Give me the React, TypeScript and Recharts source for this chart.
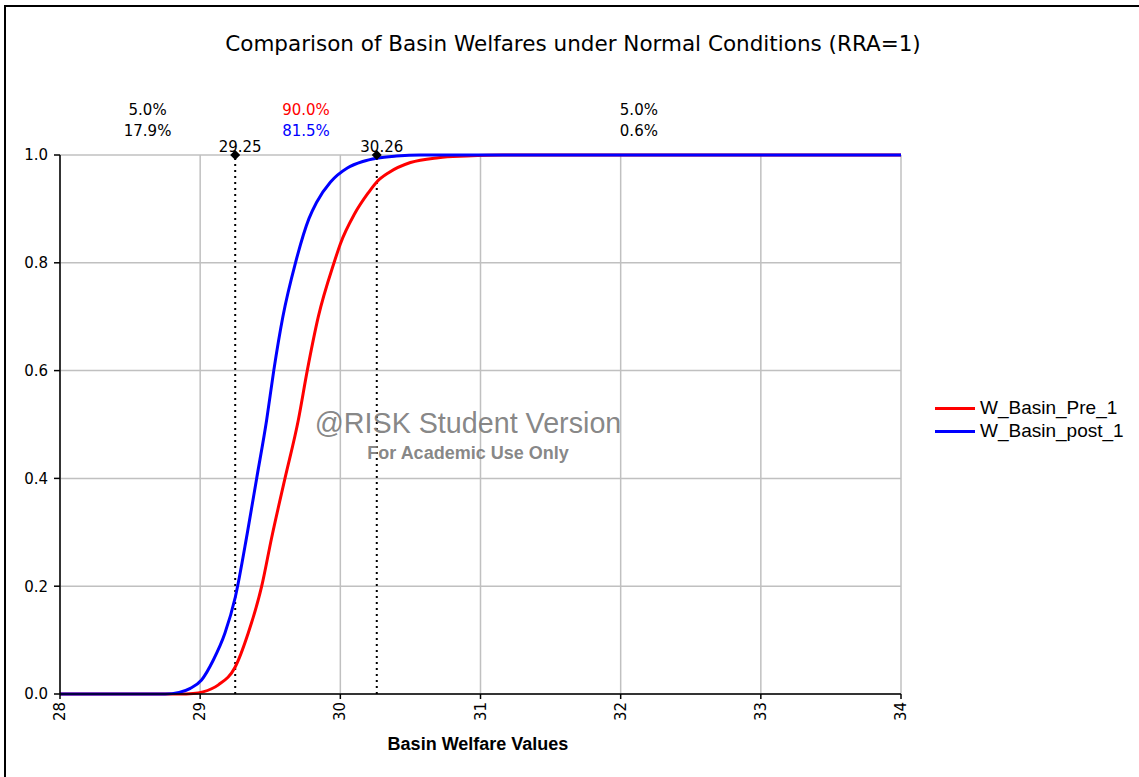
import {
  LineChart,
  Line,
  XAxis,
  YAxis,
  CartesianGrid,
  ReferenceLine,
  ReferenceDot,
  ReferenceArea,
} from "recharts";

// axis ticks
const xTicks = [28, 29, 30, 31, 32, 33, 34];
const yTicks = [0, 0.2, 0.4, 0.6, 0.8, 1.0];

// W_Basin_Pre_1 cumulative curve
const preX = [28, 28.85, 28.95, 29.02, 29.13, 29.25, 29.343, 29.439, 29.51, 29.605, 29.7, 29.764, 29.843, 29.955, 30.0, 30.1, 30.2, 30.26, 30.35, 30.5, 30.7, 30.9, 31.16, 34];
const preP = [0, 0, 0.001, 0.004, 0.017, 0.05, 0.113, 0.2, 0.29, 0.4, 0.508, 0.6, 0.7, 0.8, 0.835, 0.89, 0.93, 0.95, 0.968, 0.986, 0.995, 0.998, 1.0, 1.0];

// W_Basin_post_1 cumulative curve
const postX = [28, 28.75, 28.85, 28.93, 29.01, 29.094, 29.177, 29.25, 29.336, 29.403, 29.474, 29.525, 29.59, 29.68, 29.776, 29.83, 29.93, 30.05, 30.16, 30.26, 30.4, 30.57, 34];
const postP = [0, 0, 0.003, 0.0105, 0.026, 0.063, 0.113, 0.179, 0.298, 0.4, 0.508, 0.6, 0.7, 0.8, 0.882, 0.912, 0.95, 0.976, 0.988, 0.994, 0.998, 1.0, 1.0];

// delimiters and the shares between them
const leftMark = 29.25;
const rightMark = 30.26;
const preShares = ["5.0%", "90.0%", "5.0%"];
const postShares = ["17.9%", "81.5%", "0.6%"];

const PRE = "#ff0000";
const POST = "#0000ff";
const FONT = "DejaVu Sans, Verdana, sans-serif";
const SANS = "Liberation Sans, Arial, sans-serif";

const pre = preX.map((x, i) => ({ x, p: preP[i] }));
const post = postX.map((x, i) => ({ x, p: postP[i] }));

function shareLabel(a: string, b: string, ca: string, cb: string) {
  return (props: any) => {
    const vb = props.viewBox;
    const cx = vb.x + vb.width / 2;
    return (
      <g fontFamily={FONT} fontSize={15}>
        <text x={cx} y={vb.y - 40} textAnchor="middle" fill={ca}>{a}</text>
        <text x={cx} y={vb.y - 19} textAnchor="middle" fill={cb}>{b}</text>
      </g>
    );
  };
}

function XTick(props: any) {
  const { x, y, payload } = props;
  return (
    <text
      transform={`translate(${x},${y}) rotate(-90)`}
      textAnchor="end"
      dominantBaseline="central"
      fontFamily={FONT}
      fontSize={15}
      fill="#000"
    >
      {payload.value}
    </text>
  );
}

const diamond = (p: any) => (
  <polygon
    points={`${p.cx},${p.cy - 5} ${p.cx + 5},${p.cy} ${p.cx},${p.cy + 5} ${p.cx - 5},${p.cy}`}
    fill="#000"
  />
);

export default function App() {
  return (
    <div style={{ position: "absolute", left: 0, top: 0, width: 1139, height: 777, overflow: "hidden", background: "#fff" }}>
      <div style={{ position: "absolute", left: 4, top: 5, width: 1300, height: 1000, border: "2px solid #000" }} />
      <div style={{ position: "absolute", left: 0, top: 30, width: 1146, textAlign: "center", fontFamily: FONT, fontSize: 21.5, lineHeight: "28px" }}>
        Comparison of Basin Welfares under Normal Conditions (RRA=1)
      </div>
      <div style={{ position: "absolute", left: 0, top: 0 }}>
        <LineChart width={1139} height={777} margin={{ top: 155, right: 238, bottom: 43, left: 0 }}>
          <CartesianGrid stroke="#c0c0c0" strokeWidth={1.5} horizontalValues={yTicks} verticalValues={xTicks} />
          <XAxis
            type="number"
            dataKey="x"
            domain={[28, 34]}
            ticks={xTicks}
            allowDataOverflow
            height={40}
            stroke="#000"
            strokeWidth={1.5}
            tickSize={5}
            tickMargin={3}
            tick={<XTick />}
          />
          <YAxis
            type="number"
            dataKey="p"
            domain={[0, 1]}
            ticks={yTicks}
            width={60}
            stroke="#000"
            strokeWidth={1.5}
            tickSize={6}
            tickMargin={6}
            tickFormatter={(v: number) => v.toFixed(1)}
            tick={{ fontFamily: FONT, fontSize: 15, fill: "#000" }}
          />
          <ReferenceArea x1={28} x2={leftMark} y1={0} y2={1} fillOpacity={0} strokeOpacity={0}
            label={{ content: shareLabel(preShares[0], postShares[0], "#000", "#000") }} />
          <ReferenceArea x1={leftMark} x2={rightMark} y1={0} y2={1} fillOpacity={0} strokeOpacity={0}
            label={{ content: shareLabel(preShares[1], postShares[1], PRE, POST) }} />
          <ReferenceArea x1={rightMark} x2={34} y1={0} y2={1} fillOpacity={0} strokeOpacity={0}
            label={{ content: shareLabel(preShares[2], postShares[2], "#000", "#000") }} />
          <ReferenceLine x={leftMark} stroke="#000" strokeWidth={2} strokeDasharray="2 4"
            label={{ value: leftMark.toFixed(2), position: "top", dx: 5, offset: 3, fontFamily: FONT, fontSize: 15, fill: "#000" }} />
          <ReferenceLine x={rightMark} stroke="#000" strokeWidth={2} strokeDasharray="2 4"
            label={{ value: rightMark.toFixed(2), position: "top", dx: 5, offset: 3, fontFamily: FONT, fontSize: 15, fill: "#000" }} />
          <Line data={pre} dataKey="p" name="W_Basin_Pre_1" type="monotoneX" stroke={PRE} strokeWidth={3} dot={false} isAnimationActive={false} />
          <Line data={post} dataKey="p" name="W_Basin_post_1" type="monotoneX" stroke={POST} strokeWidth={3} dot={false} isAnimationActive={false} />
          <ReferenceDot x={leftMark} y={1} ifOverflow="visible" shape={diamond} />
          <ReferenceDot x={rightMark} y={1} ifOverflow="visible" shape={diamond} />
        </LineChart>
      </div>
      <div style={{ position: "absolute", left: 268, width: 400, top: 406, textAlign: "center", fontFamily: SANS, fontSize: 28.7, lineHeight: "34px", color: "rgba(120,120,120,0.9)" }}>
        @RISK Student Version
      </div>
      <div style={{ position: "absolute", left: 268, width: 400, top: 442, textAlign: "center", fontFamily: SANS, fontWeight: "bold", fontSize: 18, lineHeight: "22px", color: "rgba(120,120,120,0.9)" }}>
        For Academic Use Only
      </div>
      <div style={{ position: "absolute", left: 278, width: 400, top: 733, textAlign: "center", fontFamily: SANS, fontWeight: "bold", fontSize: 18, lineHeight: "22px" }}>
        Basin Welfare Values
      </div>
      {[
        { name: "W_Basin_Pre_1", color: PRE },
        { name: "W_Basin_post_1", color: POST },
      ].map((s, i) => (
        <div key={s.name} style={{ position: "absolute", left: 935, top: 396 + i * 23, display: "flex", alignItems: "center", fontFamily: SANS, fontSize: 19, lineHeight: "24px" }}>
          <span style={{ display: "inline-block", width: 40, height: 3, background: s.color, marginRight: 5 }} />
          {s.name}
        </div>
      ))}
    </div>
  );
}
